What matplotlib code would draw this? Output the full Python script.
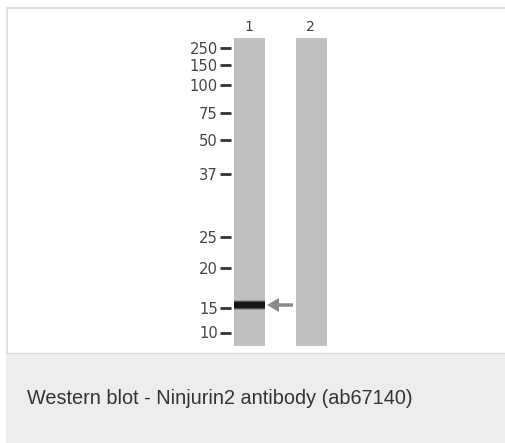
"""Western blot panel: Ninjurin2 antibody (ab67140), two lanes with a marker ladder."""
import matplotlib

matplotlib.use("Agg")
import matplotlib.pyplot as plt  # noqa: E402
from matplotlib.patches import FancyArrow, Rectangle  # noqa: E402

# marker ladder (kDa) and where each sits on the blot (pixel rows)
marker_kda = ["250", "150", "100", "75", "50", "37", "25", "20", "15", "10"]
marker_row = [48, 65, 85, 113, 140, 174, 237, 268, 308, 333]

lane_names = ["1", "2"]
lane_left = [234, 296]
lane_width = 31

# detected band: lane index and row
band_lane = 0
band_row = 305

caption = "Western blot - Ninjurin2 antibody (ab67140)"

W, H = 505, 443
fig = plt.figure(figsize=(W / 100, H / 100), dpi=100)
ax = fig.add_axes([0, 0, 1, 1])
ax.set_xlim(0, W)
ax.set_ylim(H, 0)
ax.axis("off")

# panel frame
ax.plot([6.5, 6.5], [7.5, 353], color="#e0e0e0", lw=1.4)
ax.plot([6.5, W], [7.5, 7.5], color="#e0e0e0", lw=1.4)

# caption strip
ax.add_patch(Rectangle((6, 353), W - 6, H - 353, color="#eceeed", lw=0))
ax.plot([6, W], [353, 353], color="#d8dad9", lw=1.0)
ax.text(27, 398, caption, fontsize=14.3, color="#333333",
        family="Liberation Sans", va="center", ha="left")

# lanes
lane_top, lane_bottom = 38, 346
for name, x0 in zip(lane_names, lane_left):
    ax.add_patch(Rectangle((x0, lane_top), lane_width, lane_bottom - lane_top,
                           color="#bfbfbf", lw=0))
    ax.text(x0 + lane_width / 2 - 1, 27, name, fontsize=10, color="#444444",
            ha="center", va="center")

# ladder labels with tick dashes
for lab, row in zip(marker_kda, marker_row):
    ax.text(218, row + 1, lab, fontsize=10.6, color="#444444", ha="right", va="center")
    ax.plot([220, 231], [row, row], color="#333333", lw=2.0, solid_capstyle="butt")

# band (soft edges by layering)
bx = lane_left[band_lane]
for lw, a in [(10, 0.25), (8, 0.5), (6, 1.0)]:
    ax.plot([bx, bx + lane_width], [band_row, band_row], color="#151515",
            lw=lw * 0.72, alpha=a, solid_capstyle="butt")

# arrow pointing at the band
ax.add_patch(FancyArrow(293, band_row, -26, 0, width=3.5, head_width=14,
                        head_length=12, length_includes_head=True,
                        color="#8a8a8a", lw=0))

fig.savefig("out.png", dpi=100)
